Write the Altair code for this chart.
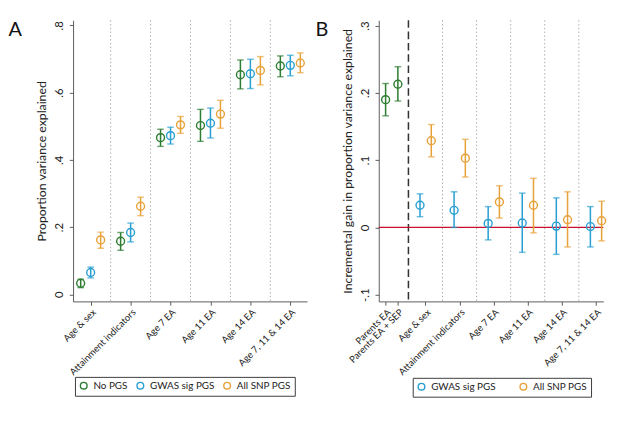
import json
import altair as alt
import pandas as pd

# ---------------- data ----------------
cats = ["Age & sex", "Attainment indicators", "Age 7 EA", "Age 11 EA",
        "Age 14 EA", "Age 7, 11 & 14 EA"]

# Panel A: proportion variance explained
a_no = [0.033, 0.158, 0.466, 0.502, 0.653, 0.679]
a_no_lo = [0.020, 0.131, 0.440, 0.455, 0.611, 0.647]
a_no_hi = [0.045, 0.184, 0.491, 0.550, 0.697, 0.709]
a_gw = [0.065, 0.184, 0.472, 0.509, 0.656, 0.681]
a_gw_lo = [0.049, 0.156, 0.447, 0.465, 0.612, 0.650]
a_gw_hi = [0.081, 0.212, 0.497, 0.554, 0.699, 0.711]
a_snp = [0.162, 0.262, 0.504, 0.536, 0.666, 0.688]
a_snp_lo = [0.137, 0.234, 0.479, 0.494, 0.623, 0.659]
a_snp_hi = [0.185, 0.289, 0.529, 0.577, 0.707, 0.718]

# Panel B: incremental gain
base_cats = ["Parents EA", "Parents EA + SEP"]
base_val = [0.190, 0.213]
base_lo = [0.166, 0.188]
base_hi = [0.214, 0.239]
b_gw = [0.033, 0.0255, 0.006, 0.0066, 0.002, 0.0013]
b_gw_lo = [0.016, 0.000, -0.0185, -0.037, -0.040, -0.029]
b_gw_hi = [0.050, 0.053, 0.031, 0.051, 0.044, 0.031]
b_snp = [0.129, 0.103, 0.038, 0.033, 0.0114, 0.010]
b_snp_lo = [0.105, 0.075, 0.014, -0.008, -0.029, -0.020]
b_snp_hi = [0.153, 0.131, 0.062, 0.073, 0.053, 0.039]

series_a = ["No PGS", "GWAS sig PGS", "All SNP PGS"]
series_b = ["GWAS sig PGS", "All SNP PGS"]
GREEN, BLUE, ORANGE, RED = "#2e7d32", "#2a9fd2", "#e8a23a", "#c8102e"
FONT = "Lato"

# ---------------- build tables ----------------
rows = []
offs_a = [-0.25, 0.0, 0.25]
for s, off, v, lo, hi in zip(series_a, offs_a, [a_no, a_gw, a_snp],
                             [a_no_lo, a_gw_lo, a_snp_lo], [a_no_hi, a_gw_hi, a_snp_hi]):
    for i in range(len(cats)):
        rows.append({"series": s, "x": i + off, "val": v[i], "lo": lo[i], "hi": hi[i]})
df_a = pd.DataFrame(rows)

rows = []
offs_b = [-0.16, 0.17]
for s, off, v, lo, hi in zip(series_b, offs_b, [b_gw, b_snp],
                             [b_gw_lo, b_snp_lo], [b_gw_hi, b_snp_hi]):
    for i in range(len(cats)):
        rows.append({"series": s, "x": i + off, "val": v[i], "lo": lo[i], "hi": hi[i]})
df_b = pd.DataFrame(rows)

base_pos = [-1.17, -0.81]
df_base = pd.DataFrame({"x": base_pos, "val": base_val, "lo": base_lo, "hi": base_hi})

sep_df = pd.DataFrame({"x": [i + 0.5 for i in range(len(cats) - 1)]})

W_A, W_B, H = 248, 238, 298

def yfmt():
    return ("datum.value == 0 ? '0' : (datum.value < 0 ? '-' : '') + '.' + "
            "format(round(abs(datum.value) * 10), 'd')")

def y_axis(title, values):
    return alt.Axis(title=title, values=values, labelExpr=yfmt(), labelAngle=270,
                    labelAlign="center", labelBaseline="bottom", labelPadding=4,
                    tickSize=4, titlePadding=5, grid=False)

def legend(x, y, colpad):
    return alt.Legend(title=None, orient="none", legendX=x, legendY=y,
                      direction="horizontal", columnPadding=colpad, padding=4,
                      strokeColor="#333", labelFont=FONT, labelFontSize=10.5,
                      labelColor="#222", symbolSize=50, symbolStrokeWidth=1.5,
                      symbolType="circle", labelOffset=5)

def letter(t):
    return alt.TitleParams(t, orient="left", anchor="end", angle=0, align="right",
                           baseline="top", font=FONT, fontSize=21, fontWeight="normal",
                           color="#111", offset=1)

# ---------------- panel A ----------------
xa_scale = alt.Scale(domain=[-0.44, 5.42], nice=False, zero=False)
ya_scale = alt.Scale(domain=[-0.021, 0.815], nice=False, zero=False)
xa_axis = alt.Axis(title=None, values=list(range(len(cats))),
                   labelExpr=json.dumps(cats).replace('"', "'") + "[datum.value]",
                   labelAngle=315, tickSize=4, grid=False, labelOverlap=False)
XA = alt.X("x:Q", scale=xa_scale, axis=xa_axis)
col_a = alt.Color("series:N", scale=alt.Scale(domain=series_a, range=[GREEN, BLUE, ORANGE]))

sepA = alt.Chart(sep_df).mark_rule(color="#a8a8a8", strokeDash=[1.5, 2.5], strokeWidth=1).encode(x=XA)
baseA = alt.Chart(df_a).encode(x=XA)
ruleA = baseA.mark_rule(strokeWidth=1.6).encode(
    y=alt.Y("lo:Q", scale=ya_scale, axis=y_axis("Proportion variance explained", [0, 0.2, 0.4, 0.6, 0.8])),
    y2="hi:Q", color=col_a.legend(None))
capLoA = baseA.mark_tick(orient="horizontal", size=7, thickness=1.5).encode(
    y=alt.Y("lo:Q", scale=ya_scale), color=col_a.legend(None))
capHiA = baseA.mark_tick(orient="horizontal", size=7, thickness=1.5).encode(
    y=alt.Y("hi:Q", scale=ya_scale), color=col_a.legend(None))
ptA = baseA.mark_point(filled=False, size=70, strokeWidth=1.5, opacity=1).encode(
    y=alt.Y("val:Q", scale=ya_scale),
    color=col_a.legend(legend(2, 378, 6)))

panelA = alt.layer(sepA, ruleA, capLoA, capHiA, ptA).resolve_legend(
    color="independent").properties(width=W_A, height=H, title=letter("A"))

# ---------------- panel B ----------------
xb_scale = alt.Scale(domain=[-1.37, 5.22], nice=False, zero=False)
yb_scale = alt.Scale(domain=[-0.11, 0.308], nice=False, zero=False)
b_pos = base_pos + list(range(len(cats)))
b_labels = base_cats + cats
xb_axis = alt.Axis(title=None, values=b_pos,
                   labelExpr=json.dumps(b_labels).replace('"', "'") + "[indexof("
                   + json.dumps(b_pos) + ", datum.value)]",
                   labelAngle=315, tickSize=4, grid=False, labelOverlap=False)
XB = alt.X("x:Q", scale=xb_scale, axis=xb_axis)
col_b = alt.Color("series:N", scale=alt.Scale(domain=series_b, range=[BLUE, ORANGE]))

sepB = alt.Chart(sep_df).mark_rule(color="#a8a8a8", strokeDash=[1.5, 2.5], strokeWidth=1).encode(x=XB)
dashB = alt.Chart(pd.DataFrame({"x": [-0.5]})).mark_rule(
    color="#333", strokeDash=[8, 4], strokeWidth=1.6).encode(x=XB)
zeroB = alt.Chart(pd.DataFrame({"y": [0.0]})).mark_rule(color=RED, strokeWidth=1.3).encode(
    y=alt.Y("y:Q", scale=yb_scale))
baseB = alt.Chart(df_b).encode(x=XB)
ruleB = baseB.mark_rule(strokeWidth=1.6).encode(
    y=alt.Y("lo:Q", scale=yb_scale,
            axis=y_axis("Incremental gain in proportion variance explained", [-0.1, 0, 0.1, 0.2, 0.3])),
    y2="hi:Q", color=col_b.legend(None))
capLoB = baseB.mark_tick(orient="horizontal", size=7, thickness=1.5).encode(
    y=alt.Y("lo:Q", scale=yb_scale), color=col_b.legend(None))
capHiB = baseB.mark_tick(orient="horizontal", size=7, thickness=1.5).encode(
    y=alt.Y("hi:Q", scale=yb_scale), color=col_b.legend(None))
ptB = baseB.mark_point(filled=False, size=70, strokeWidth=1.5, opacity=1).encode(
    y=alt.Y("val:Q", scale=yb_scale),
    color=col_b.legend(legend(36, 379, 22)))
bb = alt.Chart(df_base).encode(x=XB)
bRule = bb.mark_rule(strokeWidth=1.6, color=GREEN).encode(y=alt.Y("lo:Q", scale=yb_scale), y2="hi:Q")
bLo = bb.mark_tick(orient="horizontal", size=7, thickness=1.5, color=GREEN).encode(
    y=alt.Y("lo:Q", scale=yb_scale))
bHi = bb.mark_tick(orient="horizontal", size=7, thickness=1.5, color=GREEN).encode(
    y=alt.Y("hi:Q", scale=yb_scale))
bPt = bb.mark_point(filled=False, size=70, strokeWidth=1.5, opacity=1, color=GREEN).encode(
    y=alt.Y("val:Q", scale=yb_scale))

panelB = alt.layer(sepB, dashB, zeroB, ruleB, capLoB, capHiB, ptB,
                   bRule, bLo, bHi, bPt).resolve_legend(
    color="independent").properties(width=W_B, height=H, title=letter("B"))

chart = alt.hconcat(panelA, panelB, spacing=8).resolve_scale(
    color="independent", x="independent", y="independent"
).properties(padding=0).configure_view(stroke=None).configure_axis(
    domainColor="#555", tickColor="#555", labelColor="#222", titleColor="#222",
    labelFont=FONT, titleFont=FONT, labelFontSize=10, titleFontSize=13,
    titleFontWeight="normal"
).configure_axisY(labelFontSize=12)

chart.save("out.html", embed_options={"renderer": "svg", "actions": False})
